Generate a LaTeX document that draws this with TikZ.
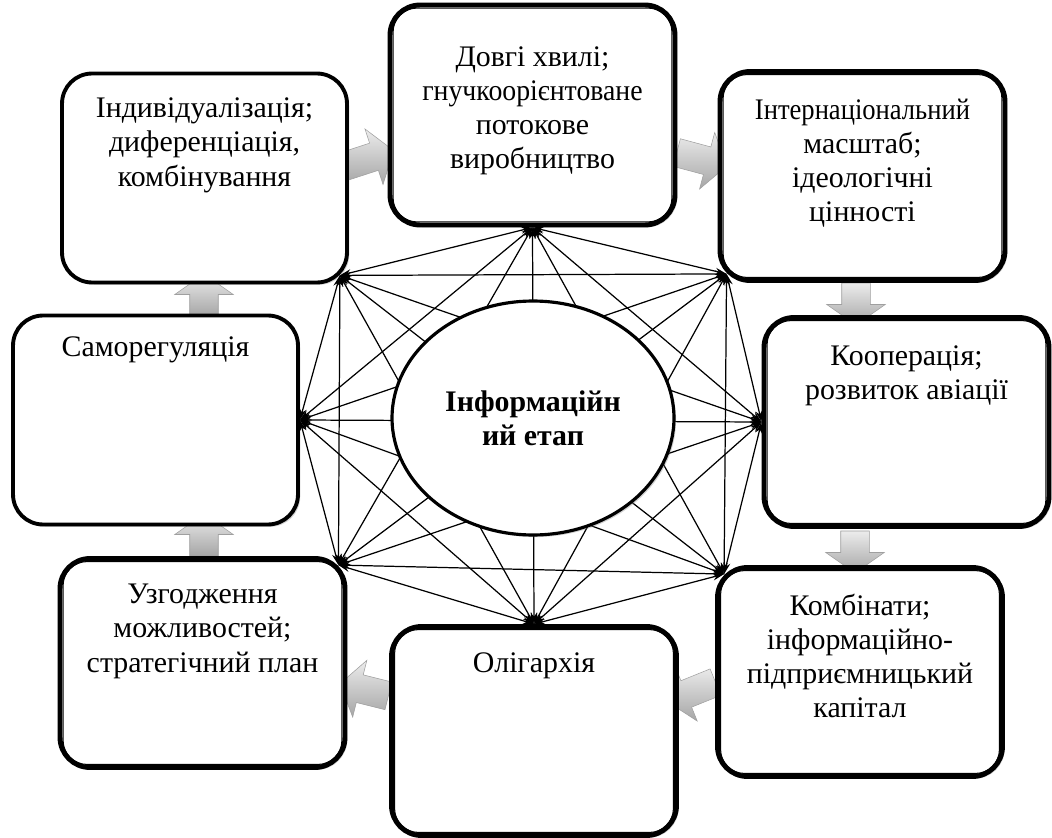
\documentclass[tikz,border=0pt]{standalone}
\usepackage{fontspec}
\setmainfont{Liberation Serif}
\usepackage{tikz}
\usetikzlibrary{arrows.meta, positioning, calc, shapes.arrows, shapes.geometric, shadows}
\definecolor{frame}{HTML}{000000}
\newcommand{\stagetext}[2][0.91cm]{\parbox[c][4.1cm][t]{5.5cm}{\centering\rule{0pt}{#1}#2}}
\newcommand{\tight}[2]{\scalebox{#1}[1]{#2}}

\begin{document}
\begin{tikzpicture}[
    x=0.02cm, y=-0.02cm,
    stage/.style={draw=frame, rounded corners=0.6cm, line width=2.2pt, fill=white,
        minimum width=5.7cm, minimum height=4.18cm, inner sep=0,
        font=\fontsize{17}{19.5}\selectfont,
        drop shadow={opacity=0.35, shadow xshift=1.3pt, shadow yshift=-1.3pt}},
    dblstage/.style={stage, line width=2.8pt},
    core/.style={draw, ellipse, line width=1.8pt, fill=white, minimum width=5.64cm,
        minimum height=4.68cm, align=center, font=\fontsize{17}{19.5}\selectfont\bfseries,
        drop shadow={opacity=0.35, shadow xshift=1.2pt, shadow yshift=-1.2pt}},
    flow/.style={single arrow, draw=gray!75, line width=0.3pt, top color=gray!15,
        bottom color=gray!70, inner xsep=0, inner ysep=0.28cm, single arrow head extend=0.3cm,
        single arrow tip angle=110},
    spoke/.style={line width=0.7pt, {Stealth[length=6.5pt,width=4pt]}-{Stealth[length=6.5pt,width=4pt]}}
]
\useasboundingbox (0,0) rectangle (1052,838);

% block arrows between the stages
\node[flow, rotate=18, minimum height=1.04cm] (ar1) at (364,160) {};
\node[flow, rotate=-15, minimum height=1.04cm] (ar2) at (697,158) {};
\node[flow, rotate=-90, minimum height=0.84cm] (ar3) at (856,299) {};
\node[flow, rotate=-90, minimum height=0.84cm] (ar4) at (855,547) {};
\node[flow, rotate=202, minimum height=1.04cm] (ar5) at (696,690) {};
\node[flow, rotate=166, minimum height=1.0cm] (ar6) at (369,691) {};
\node[flow, rotate=90, minimum height=0.84cm] (ar7) at (204,540) {};
\node[flow, rotate=90, minimum height=0.84cm] (ar8) at (204,300) {};

% stages
\node[stage] (st1) at (204.5,178) {\stagetext[0.84cm]{Індивідуалізація;\\ диференціація,\\ комбінування}};
\node[dblstage, minimum height=4.4cm] (st2) at (532.5,115) {\stagetext[1.07cm]{Довгі хвилі;\\ \tight{0.93}{гнучкоорієнтоване}\\ потокове\\ виробництво}};
\node[dblstage] (st3) at (862.5,176) {\stagetext{\tight{0.89}{Інтернаціональний}\\ масштаб;\\ ідеологічні\\ цінності}};
\node[dblstage] (st4) at (906.5,422) {\stagetext{Кооперація;\\ розвиток авіації}};
\node[dblstage] (st5) at (860,672) {\stagetext{Комбінати;\\ інформаційно-\\ підприємницький\\ капітал}};
\node[dblstage] (st6) at (534,731) {\stagetext[0.88cm]{Олігархія}};
\node[dblstage] (st7) at (202.5,663) {\stagetext[0.86cm]{Узгодження\\ можливостей;\\ стратегічний план}};
\node[stage] (st8) at (155.5,420) {\stagetext[0.78cm]{Саморегуляція}};

% inner frame of the double boxes
\foreach \s in {st2,st3,st4,st5,st6,st7}
  \draw[line width=0.6pt, rounded corners=0.48cm]
    ([shift={(5.5,5.5)}]\s.north west) rectangle ([shift={(-5.5,-5.5)}]\s.south east);

% meeting points of the links
\coordinate (v1) at (st2.south);
\coordinate (v2) at ([shift={(9,-9)}]st3.south west);
\coordinate (v3) at (st4.west);
\coordinate (v4) at ([shift={(9,9)}]st5.north west);
\coordinate (v5) at (st6.north);
\coordinate (v6) at ([shift={(-9,9)}]st7.north east);
\coordinate (v7) at (st8.east);
\coordinate (v8) at ([shift={(-9,-9)}]st1.south east);

\foreach \i in {1,...,7}{
  \pgfmathtruncatemacro\k{\i+1}
  \foreach \j in {\k,...,8}
    \draw[spoke] (v\i) -- (v\j);
}

\node[core] (info) at (533,418) {Інформаційн\\ ий етап};
\end{tikzpicture}
\end{document}
